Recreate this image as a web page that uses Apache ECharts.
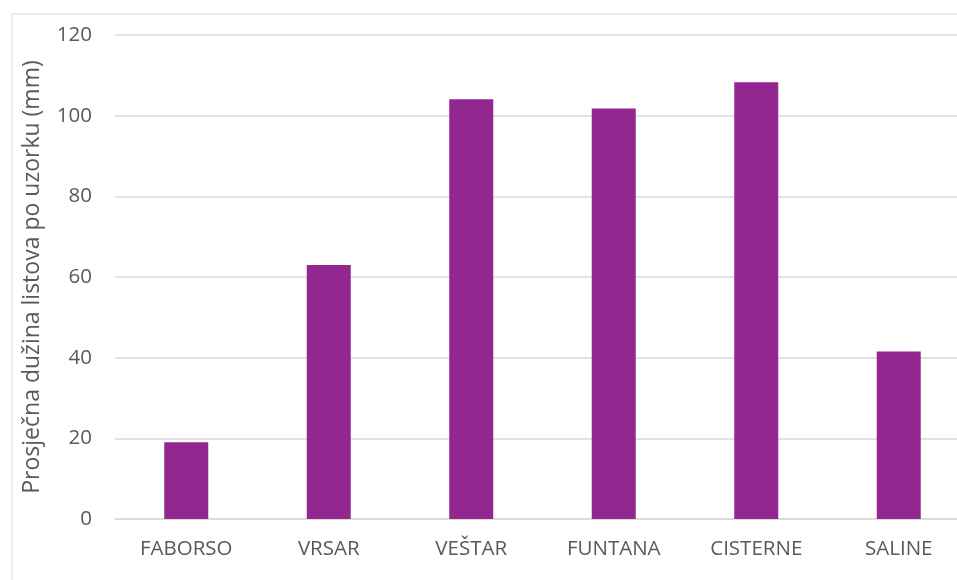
<!DOCTYPE html>
<html><head><meta charset="utf-8">
<script src="https://cdn.jsdelivr.net/npm/echarts@6/dist/echarts.min.js"></script>
<style>html,body{margin:0;padding:0;background:#fff}#c{width:957px;height:580px}</style>
</head><body><div id="c"></div>
<script>
const categories = ['FABORSO', 'VRSAR', 'VEŠTAR', 'FUNTANA', 'CISTERNE', 'SALINE'];
const values = [19.0, 63.0, 104.1, 101.8, 108.3, 41.5];
const yTicks = [0, 20, 40, 60, 80, 100, 120];
const yTitle = 'Prosječna dužina listova po uzorku (mm)';

const chart = echarts.init(document.getElementById('c'), null, {renderer: 'canvas'});
chart.setOption({
  animation: false,
  backgroundColor: '#fff',
  graphic: [{
    type: 'rect', left: 9.5, top: 11.5, z: -1,
    shape: {width: 1000, height: 700},
    style: {fill: 'none', stroke: '#d9d9d9', lineWidth: 1}
  }],
  grid: {left: 115, top: 35, right: -13, bottom: 61, containLabel: false, outerBoundsMode: 'none'},
  xAxis: {
    type: 'category', data: categories,
    axisLine: {show: true, lineStyle: {color: '#d9d9d9', width: 1.5}},
    axisTick: {show: false},
    axisLabel: {color: '#595959', fontSize: 20.5, fontFamily: 'Open Sans', margin: 20}
  },
  yAxis: {
    type: 'value', min: yTicks[0], max: yTicks[yTicks.length - 1], interval: 20,
    name: yTitle, nameLocation: 'middle', nameRotate: 90, nameGap: 71,
    nameTextStyle: {color: '#595959', fontSize: 23, fontFamily: 'Open Sans'},
    axisLine: {show: false}, axisTick: {show: false},
    splitLine: {lineStyle: {color: '#d9d9d9', width: 1.5}},
    axisLabel: {color: '#595959', fontSize: 20.5, fontFamily: 'Open Sans', margin: 23}
  },
  series: [{
    type: 'bar', data: values, barWidth: 44,
    itemStyle: {color: '#92278F'}
  }]
});
</script></body></html>
